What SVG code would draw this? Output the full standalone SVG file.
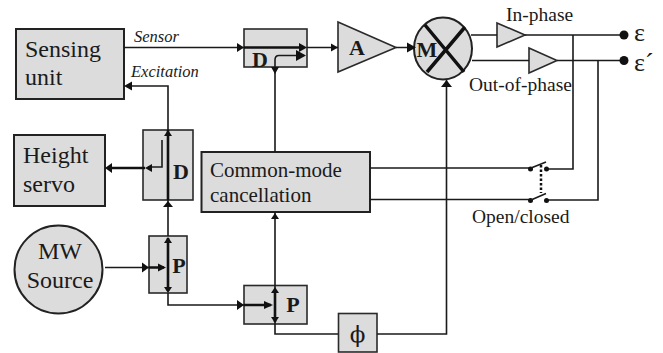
<svg xmlns="http://www.w3.org/2000/svg" width="663" height="353" viewBox="0 0 663 353">
<style>
.b{fill:#dcdcdc;stroke:#2a2a2a;stroke-width:1.6}
.b2{fill:#dcdcdc;stroke:#222;stroke-width:2}
.l{fill:none;stroke:#1a1a1a;stroke-width:1.6}
.t{fill:none;stroke:#111;stroke-width:2.600}
.a{fill:#111;stroke:none}
text{font-family:"Liberation Serif",serif;fill:#1a1a1a}
.s{font-size:24px}
.m{font-size:21px}
.i{font-size:16.500px;font-style:italic}
.o{font-size:19.500px}
.h{font-weight:bold;font-size:22px}
</style>
<rect width="663" height="353" fill="#fff"/>
<g id="sensing-unit"><rect class="b2" x="16" y="29" width="108" height="70"/><text class="s" x="25" y="57">Sensing</text><text class="s" x="25" y="85">unit</text></g>
<g id="height-servo"><rect class="b2" x="14" y="135" width="91" height="71"/><text class="s" x="23" y="163">Height</text><text class="s" x="23" y="192">servo</text></g>
<g id="mw-source"><circle class="b2" cx="58.500" cy="269.500" r="44"/><text class="s" x="60" y="259" text-anchor="middle">MW</text><text class="s" x="60" y="288" text-anchor="middle">Source</text></g>
<g id="d-top"><rect class="b" x="244" y="29" width="63" height="38"/><text class="h" x="260" y="67" text-anchor="middle">D</text></g>
<g id="d-left"><rect class="b" x="143" y="130" width="50" height="70"/><text class="h" x="181" y="179" text-anchor="middle">D</text></g>
<g id="common-mode"><rect class="b2" x="201.500" y="152" width="168.500" height="60"/><text class="m" x="210" y="177">Common-mode</text><text class="m" x="210" y="202">cancellation</text></g>
<g id="p-left"><rect class="b" x="149" y="236" width="38" height="57"/><text class="h" x="179" y="273" text-anchor="middle">P</text></g>
<g id="p-right"><rect class="b" x="244" y="285.500" width="63" height="38.500"/><text class="h" x="293" y="312" text-anchor="middle">P</text></g>
<g id="phi"><rect class="b" x="338.500" y="313.500" width="38.500" height="38.500"/><text x="357.500" y="342" text-anchor="middle" style="font-size:23px;font-family:'DejaVu Serif','Liberation Serif',serif">ϕ</text></g>
<g id="amp-a"><path class="b" d="M338 22L396 47.500L338 72Z"/><text class="h" x="357" y="55" text-anchor="middle">A</text></g>
<g id="mixer-m"><ellipse class="b2" cx="443" cy="48.500" rx="29" ry="31"/><path d="M425 25L464 72M465 27L427 72" fill="none" stroke="#111" stroke-width="3.500"/><text class="h" x="427" y="57" text-anchor="middle">M</text></g>
<g id="amp-in"><path class="b" d="M497 23L525 35L497 47Z"/></g>
<g id="amp-out"><path class="b" d="M529 48L557 60.500L529 73Z"/></g>
<g id="connectors">
<path class="l" d="M124 47.500H244M307 47.500H338M396 47.500H415M471 35H497M525 35H622M472 60.500H529M557 60.500H622"/>
<path class="t" d="M244 47.500H304"/>
<path class="l" d="M304 55.500H279Q275 55.500 275 60V152"/>
<path class="l" d="M168 130V86H126"/>
<path class="t" d="M168 130V200"/>
<path class="l" d="M168 200V236M162 140V167H148"/>
<path class="t" d="M108 168H145"/>
<path class="l" d="M105 267.500H149M168 293V305H244"/>
<path class="t" d="M149 267.500H164M168 238V291M244 305H271M275 290V322"/>
<path class="l" d="M275 212V290M275 322V334H338M377 334H446.500V80"/>
<path class="l" d="M370 168H530M370 199.500H530M546.500 169H573V35M546.500 200H598V60.500"/>
<path class="a" d="M237 43L244 47.500L237 52ZM299 43L307 47.500L299 52ZM296 50L306 55.500L296 61ZM271 67H279L275 74ZM124 86L132 81.500V90.500ZM168 130L164 136H172ZM105 168L112 163V173ZM145 168L152 164V172ZM168 201L163 207H173ZM142 262.500L149 267.500L142 272.500ZM158 263.500L166 267.500L158 271.500ZM168 237L164 243H172ZM168 293L164 287H172ZM237 300L244 305L237 310ZM264 301L273 305L264 309ZM275 287L271 293H279ZM275 323L271 317H279ZM275 213L271 219H279ZM331 43.500L338 47.500L331 51.500ZM416 47.500L407 42.500V52.500ZM446.500 80L441 87H452Z"/>
</g>
<g id="outputs"><circle class="a" cx="624" cy="35" r="4.500"/><circle class="a" cx="624" cy="60.500" r="4.500"/><text x="634" y="41" style="font-size:26px">ε</text><text x="634" y="71" style="font-size:26px">ε´</text></g>
<g id="switches"><circle class="a" cx="530.500" cy="169" r="2.500"/><circle class="a" cx="546.500" cy="169" r="2.500"/><circle class="a" cx="530.500" cy="200.500" r="2.500"/><circle class="a" cx="546.500" cy="200.500" r="2.500"/><path class="l" d="M531 168L546 162M531 200L546 193.500"/><path d="M541 165V193" fill="none" stroke="#111" stroke-width="2.500" stroke-dasharray="2.500 2"/></g>
<g id="labels">
<text class="i" x="134" y="42">Sensor</text><text class="i" x="131" y="77">Excitation</text>
<text class="o" x="506" y="21">In-phase</text><text class="o" x="469" y="91">Out-of-phase</text><text class="o" x="472" y="223">Open/closed</text>
</g>
</svg>
